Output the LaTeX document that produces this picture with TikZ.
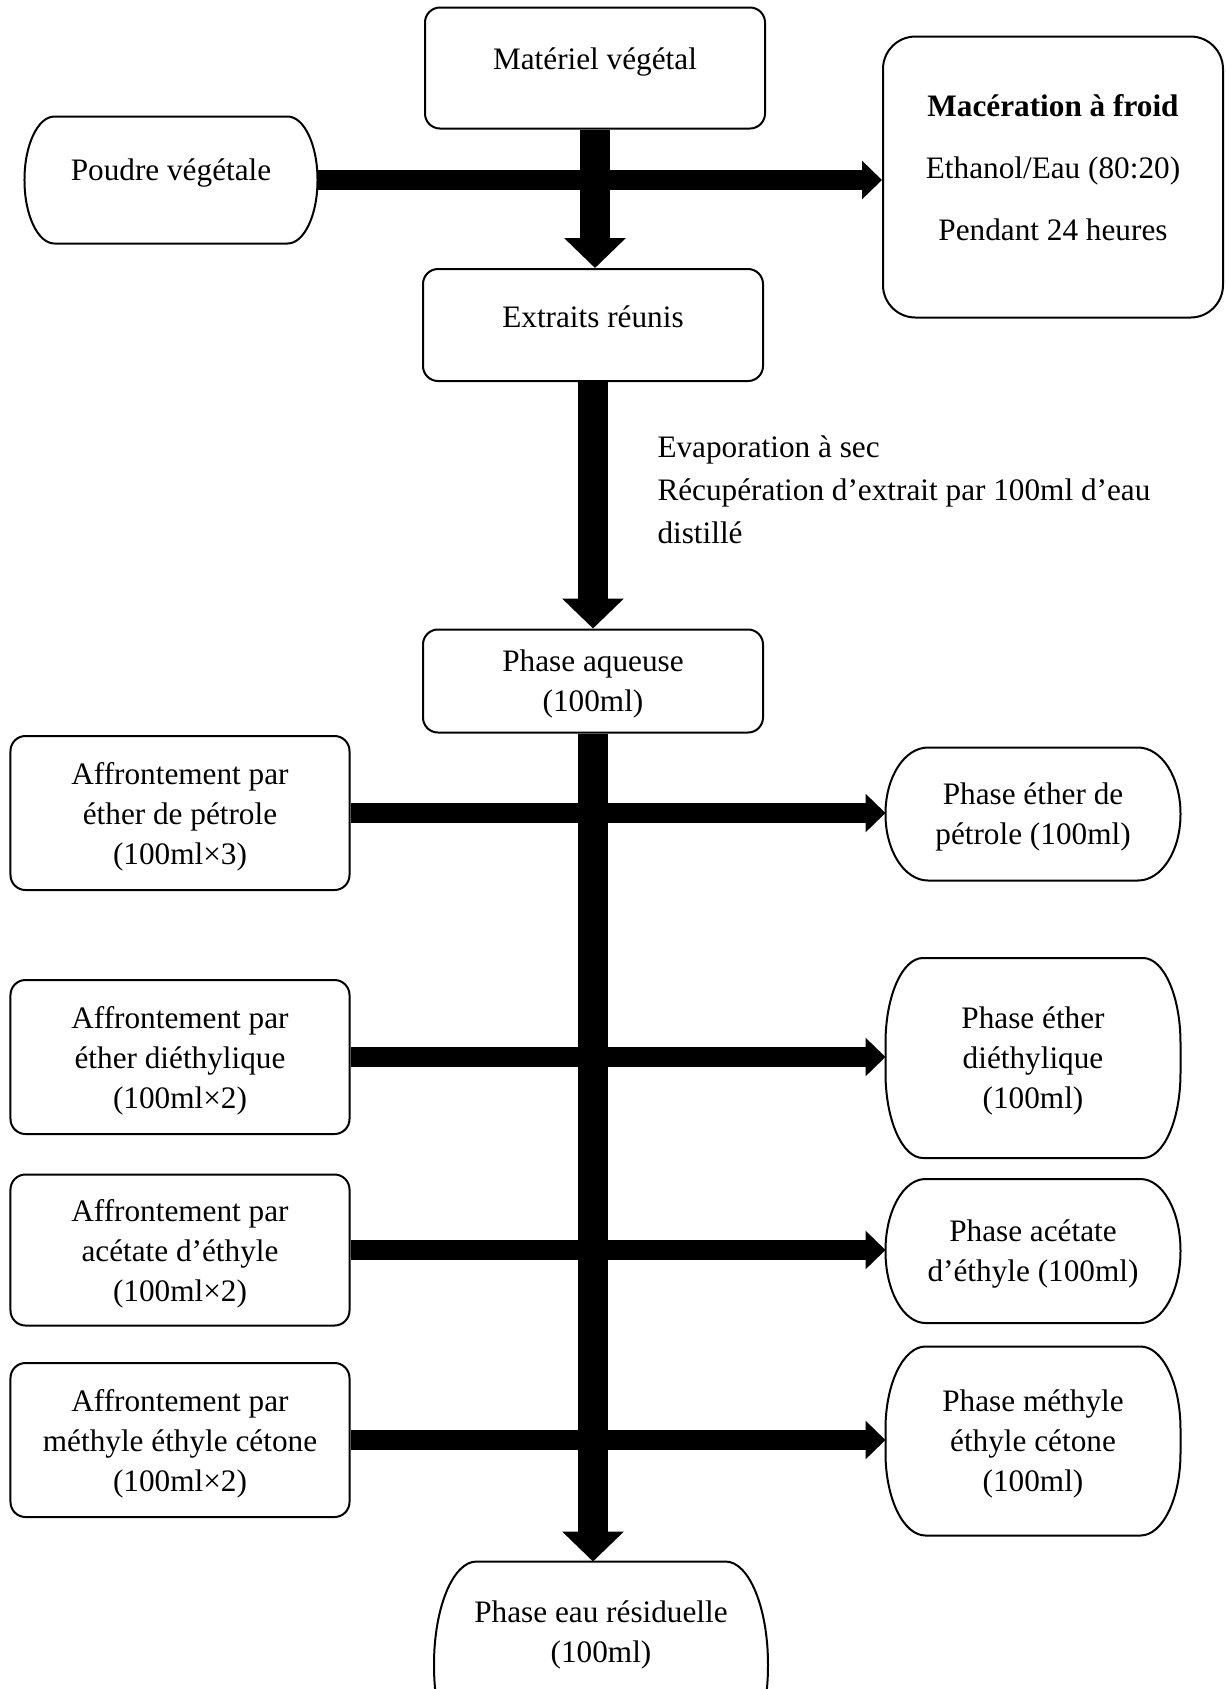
\documentclass[tikz,border=0pt]{standalone}
\usepackage{fontspec}
\setmainfont{Liberation Serif}
\usepackage{tikz}
\usetikzlibrary{positioning, arrows.meta, calc}

% outline with elliptic corners: node, x radius, y radius
\newcommand{\capframe}[3]{%
  \draw[line width=0.8pt] ($(#1.north west)+(#2,0pt)$) -- ($(#1.north east)+(-#2,0pt)$)
    arc[start angle=90, end angle=0, x radius=#2, y radius=#3]
    -- ($(#1.south east)+(0pt,#3)$)
    arc[start angle=0, end angle=-90, x radius=#2, y radius=#3]
    -- ($(#1.south west)+(#2,0pt)$)
    arc[start angle=-90, end angle=-180, x radius=#2, y radius=#3]
    -- ($(#1.north west)+(0pt,-#3)$)
    arc[start angle=180, end angle=90, x radius=#2, y radius=#3] -- cycle;}

\begin{document}
\begin{tikzpicture}[
  x=0.4pt, y=-0.4pt,
  every node/.style={font=\fontsize{12.5}{16}\selectfont, align=center, inner sep=2pt},
  stepbox/.style={draw, line width=0.8pt, rounded corners=6pt},
  capsule/.style={inner sep=2pt, text depth=0pt},
  vbar/.style={line width=12pt, -{Triangle[length=12pt, width=24pt]}},
  hbar/.style={line width=8pt, -{Triangle[length=8pt, width=15pt]}}
]
\useasboundingbox (0,0) rectangle (1226,1689);
\clip (0,0) rectangle (1226,1689);

% Extraction
\node[stepbox, minimum width=136pt, minimum height=48.4pt, text depth=7.9pt] (mat) at (595,68) {Matériel végétal};
\node[capsule, minimum width=116.8pt, minimum height=50.4pt, text depth=8.7pt] (poudre) at (171,180) {Poudre végétale};
\node[stepbox, rounded corners=13pt, minimum width=136pt, minimum height=112.4pt, text depth=7.8pt] (mac) at (1053,177)
  {\textbf{Macération à froid}\\[8.8pt] Ethanol/Eau (80:20)\\[8.8pt] Pendant 24 heures};
\node[stepbox, minimum width=136pt, minimum height=44.8pt, text depth=6.9pt] (ext) at (593,325) {Extraits réunis};
\node[anchor=west, align=left, font=\fontsize{12.5}{17.2}\selectfont] (evap) at (652,490)
  {Evaporation à sec\\Récupération d’extrait par 100ml d’eau\\distillé};
\node[stepbox, minimum width=136pt, minimum height=41.2pt, text depth=0pt] (aq) at (593,681) {Phase aqueuse\\(100ml)};

% Solvents (left) and phases (right)
\node[stepbox, minimum width=135.6pt, minimum height=61.6pt, text depth=0pt] (aff1) at (180,813) {Affrontement par\\éther de pétrole\\(100ml×3)};
\node[stepbox, minimum width=135.6pt, minimum height=61.6pt, text depth=0pt] (aff2) at (180,1057) {Affrontement par\\éther diéthylique\\(100ml×2)};
\node[stepbox, minimum width=135.6pt, minimum height=60.4pt, text depth=0pt] (aff3) at (180,1250) {Affrontement par\\acétate d’éthyle\\(100ml×2)};
\node[stepbox, minimum width=135.6pt, minimum height=61.6pt, text depth=0pt] (aff4) at (180,1440) {Affrontement par\\méthyle éthyle cétone\\(100ml×2)};

\node[capsule, minimum width=117.6pt, minimum height=52.8pt] (pet) at (1033,814) {Phase éther de\\pétrole (100ml)};
\node[capsule, minimum width=117.6pt, minimum height=79.6pt] (diet) at (1033,1058) {Phase éther\\diéthylique\\(100ml)};
\node[capsule, minimum width=117.6pt, minimum height=57.2pt] (acet) at (1033,1251) {Phase acétate\\d’éthyle (100ml)};
\node[capsule, minimum width=117.6pt, minimum height=75.2pt] (meth) at (1033,1441) {Phase méthyle\\éthyle cétone\\(100ml)};
\node[capsule, minimum width=133.2pt, minimum height=82.4pt, text depth=27pt] (eau) at (601,1665) {Phase eau résiduelle\\(100ml)};

\capframe{poudre}{12pt}{25.2pt}
\capframe{pet}{17pt}{26.4pt}
\capframe{diet}{15pt}{34pt}
\capframe{acet}{16pt}{28.6pt}
\capframe{meth}{16pt}{33pt}
\capframe{eau}{17pt}{41.2pt}

% Thick arrows
\draw[vbar] (mat.south) -- (mat.south |- ext.north);
\draw[hbar] (poudre.east) -- (poudre.east -| mac.west);
\draw[vbar] (ext.south) -- (ext.south |- aq.north);
\draw[vbar] (aq.south) -- (aq.south |- eau.north);
\draw[hbar] (aff1.east) -- (aff1.east -| pet.west);
\draw[hbar] (aff2.east) -- (aff2.east -| diet.west);
\draw[hbar] (aff3.east) -- (aff3.east -| acet.west);
\draw[hbar] (aff4.east) -- (aff4.east -| meth.west);

\end{tikzpicture}
\end{document}
